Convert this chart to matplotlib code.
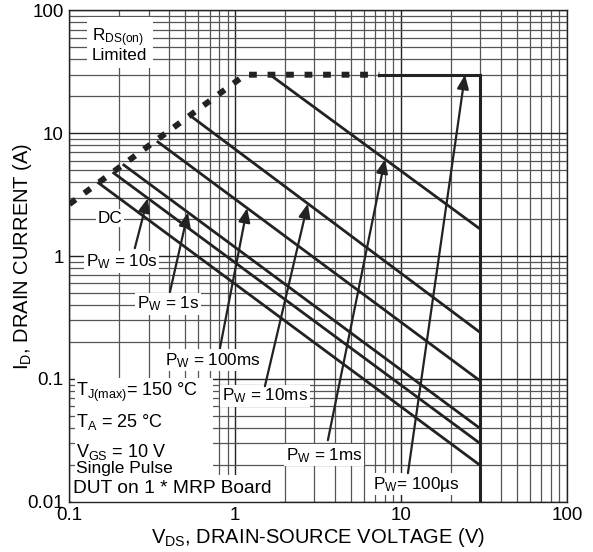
import numpy as np
import matplotlib.pyplot as plt
from matplotlib.patches import Rectangle
from matplotlib.ticker import FixedLocator, FixedFormatter, LogLocator, NullFormatter

plt.rcParams['font.family'] = ['Liberation Sans', 'DejaVu Sans']
plt.rcParams['mathtext.default'] = 'regular'

# --- data ---
V_MAX = 30.0          # V_DS limit
I_MAX = 30.0          # I_D limit (100us line)

# R_DS(on) limit (dotted)
RDS_V = [0.1, 1.15, 7.4]
RDS_I = [2.65, I_MAX, I_MAX]

# pulse lines: start on the R_DS(on) line, end at V_MAX
PULSE = ["DC", "10s", "1s", "100ms", "10ms", "1ms"]
V_START = [0.150, 0.185, 0.213, 0.342, 0.548, 1.62]
I_START = [3.94, 4.75, 5.52, 8.51, 13.6, 30.0]
I_END = [0.0198, 0.0298, 0.0395, 0.0964, 0.239, 1.66]

# labels: text, text pos (V, I), arrow target line, arrow tip V, arrow tail (V, I)
LABELS = ["P$_W$ = 10s", "P$_W$ = 1s", "P$_W$ = 100ms", "P$_W$ = 10ms",
          "P$_W$ = 1ms", "P$_W$= 100µs"]
LABEL_V = [0.207, 0.393, 0.735, 1.51, 3.43, 12.3]
LABEL_I = [0.895, 0.407, 0.142, 0.0725, 0.0239, 0.0139]
TARGET = ["10s", "1s", "100ms", "10ms", "1ms", "100us"]
TIP_V = [0.297, 0.519, 1.18, 2.74, 8.0, 24.3]
TAIL_V = [0.248, 0.404, 0.809, 1.51, 3.62, 11.0]
TAIL_I = [1.16, 0.511, 0.178, 0.0873, 0.0317, 0.0171]


def current_on(name, v):
    if name == "100us":
        return I_MAX
    k = PULSE.index(name)
    lv = np.log10([V_START[k], V_MAX])
    li = np.log10([I_START[k], I_END[k]])
    return 10 ** np.interp(np.log10(v), lv, li)


fig = plt.figure(figsize=(5.93, 5.52), dpi=100)
ax = fig.add_axes([0.117, 0.091, 0.839, 0.890])
ax.set_xscale('log')
ax.set_yscale('log')
ax.set_xlim(0.1, 100)
ax.set_ylim(0.01, 100)

# grid
ax.xaxis.set_major_locator(FixedLocator([0.1, 1, 10, 100]))
ax.xaxis.set_major_formatter(FixedFormatter(["0.1", "1", "10", "100"]))
ax.yaxis.set_major_locator(FixedLocator([0.01, 0.1, 1, 10, 100]))
ax.yaxis.set_major_formatter(FixedFormatter(["0.01", "0.1", "1", "10", "100"]))
ax.xaxis.set_minor_locator(LogLocator(base=10, subs=np.arange(2, 10)))
ax.yaxis.set_minor_locator(LogLocator(base=10, subs=np.arange(2, 10)))
ax.xaxis.set_minor_formatter(NullFormatter())
ax.yaxis.set_minor_formatter(NullFormatter())
ax.grid(True, which='major', color='#222222', lw=1.0, zorder=0)
ax.grid(True, which='minor', color='#555555', lw=0.9, zorder=0)
ax.set_axisbelow(True)
ax.tick_params(which='both', length=0, labelsize=13.5)
ax.tick_params(axis='x', pad=4)
ax.tick_params(axis='y', pad=4)
for s in ax.spines.values():
    s.set_color('#222222')
    s.set_linewidth(1.0)

# white boxes behind the condition text
ax.add_patch(Rectangle((0.011, 0.0), 0.277, 0.252, transform=ax.transAxes,
                       facecolor='white', edgecolor='none', zorder=1))
ax.add_patch(Rectangle((0.005, 0.0), 0.418, 0.055, transform=ax.transAxes,
                       facecolor='white', edgecolor='none', zorder=1))

# R_DS(on) limit
ax.plot(RDS_V, RDS_I, color='#222222', lw=4.3, linestyle=(0, (1.3, 1.8)),
        dash_capstyle='butt', zorder=3)
# 100us / V_max boundary
ax.plot([RDS_V[-1], V_MAX, V_MAX], [I_MAX, I_MAX, 0.01], color='#222222',
        lw=2.2, zorder=3, solid_joinstyle='miter')

for k in range(len(PULSE)):
    ax.plot([V_START[k], V_MAX], [I_START[k], I_END[k]], color='#222222',
            lw=2.0, zorder=3)

box = dict(boxstyle='square,pad=0.1', facecolor='white', edgecolor='none')
for k in range(len(LABELS)):
    ax.text(LABEL_V[k], LABEL_I[k], LABELS[k], fontsize=12.3, ha='center',
            va='center', bbox=box, zorder=4)
    tip = (TIP_V[k], current_on(TARGET[k], TIP_V[k]))
    ax.annotate('', xy=tip, xytext=(TAIL_V[k], TAIL_I[k]),
                arrowprops=dict(arrowstyle='-|>,head_length=0.6,head_width=0.25',
                                mutation_scale=14, lw=1.6, color='#222222',
                                shrinkA=0, shrinkB=0), zorder=5)

ax.text(0.175, 2.04, "DC", fontsize=12.3, ha='center', va='center', bbox=box,
        zorder=4)
ax.text(0.137, 52.5, "R$_{DS(on)}$\nLimited", fontsize=12.3, ha='left',
        va='center', linespacing=0.9,
        bbox=dict(boxstyle='square,pad=0.3', facecolor='white', edgecolor='none'),
        zorder=4)

# conditions
ax.text(0.013, 0.2234, "T$_{J(max)}$= 150 °C", transform=ax.transAxes,
        fontsize=13, va='center', zorder=4)
ax.text(0.013, 0.1623, "T$_A$ = 25 °C", transform=ax.transAxes,
        fontsize=13, va='center', zorder=4)
ax.text(0.013, 0.1012, "V$_{GS}$ = 10 V", transform=ax.transAxes,
        fontsize=13, va='center', zorder=4)
ax.text(0.013, 0.0686, "Single Pulse", transform=ax.transAxes,
        fontsize=12.5, va='center', zorder=4)
ax.text(0.007, 0.0279, "DUT on 1 * MRP Board", transform=ax.transAxes,
        fontsize=13.8, va='center', zorder=4)

ax.set_xlabel("V$_{DS}$, DRAIN-SOURCE VOLTAGE (V)", fontsize=14.5, labelpad=1)
ax.set_ylabel("I$_D$, DRAIN CURRENT (A)", fontsize=14.5)
ax.yaxis.set_label_coords(-0.072, 0.5)

fig.savefig("out.png", dpi=100)
